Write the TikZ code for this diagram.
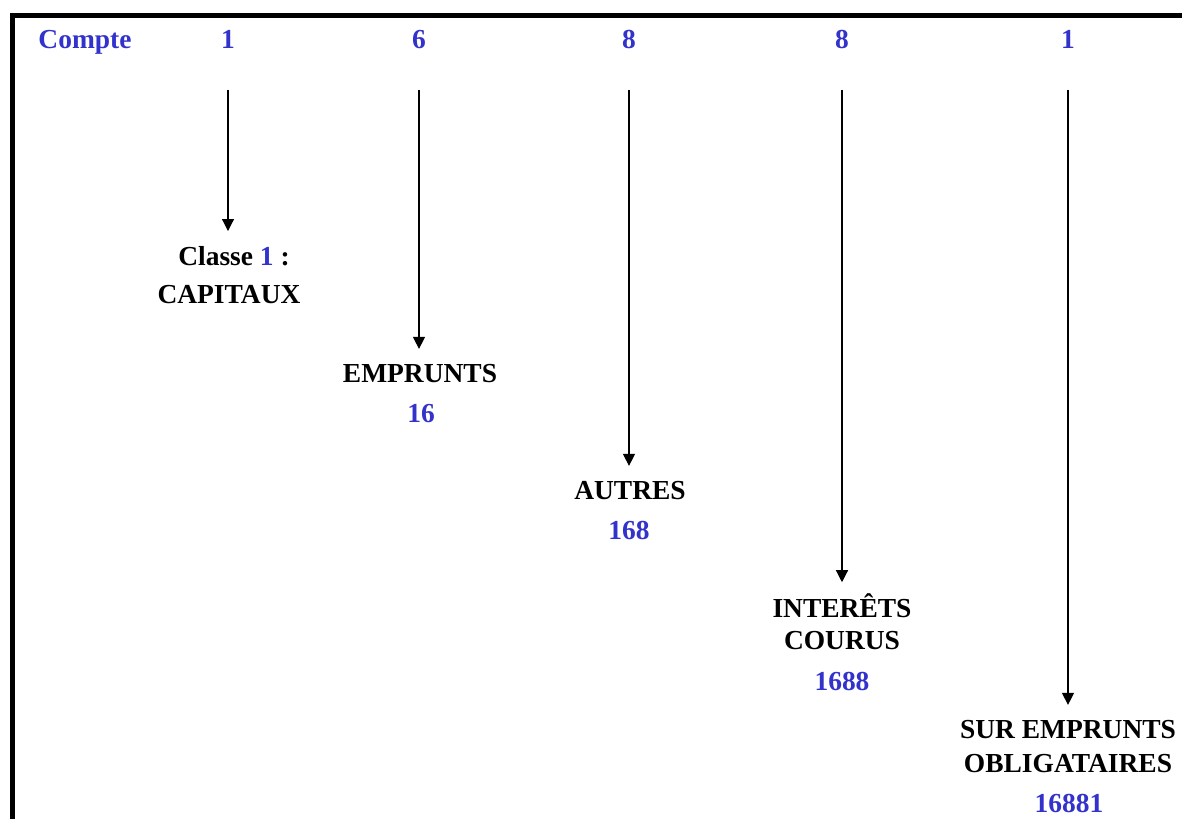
\documentclass[tikz,border=0pt]{standalone}
\usepackage{fontspec}
\setmainfont{Liberation Serif}
\usetikzlibrary{arrows.meta}
\definecolor{numblue}{RGB}{51,51,204}

\begin{document}
\begin{tikzpicture}[x=0.75pt,y=-0.75pt,
        every node/.style={inner sep=0pt,anchor=base,font=\fontsize{20.6}{24}\selectfont\bfseries},
        num/.style={text=numblue},
        pointer/.style={-{Triangle[length=9pt,width=9pt]},line width=0.9pt,shorten <=31pt,shorten >=11pt}]
        \useasboundingbox (0,0) rectangle (1182,818);
        \draw[line width=3.8pt] (12.5,830) |- (1200,15.5);

        \node[num] (compte) at (85,48) {Compte};
        \node[num] (d1) at (228,48) {1};
        \node[num] (d2) at (419,48) {6};
        \node[num] (d3) at (629,48) {8};
        \node[num] (d4) at (842,48) {8};
        \node[num] (d5) at (1068,48) {1};

        \node (classe) at (234,265) {Classe {\color{numblue}1} :};
        \node (capitaux) at (229,303) {CAPITAUX};
        \node (emprunts) at (420,382) {EMPRUNTS};
        \node[num] (n16) at (421,422) {16};
        \node (autres) at (630,499) {AUTRES};
        \node[num] (n168) at (629,539) {168};
        \node (interets) at (842,617) {INTERÊTS};
        \node (courus) at (842,649) {COURUS};
        \node[num] (n1688) at (842,690) {1688};
        \node (sur) at (1068,738) {SUR EMPRUNTS};
        \node (oblig) at (1068,772) {OBLIGATAIRES};
        \node[num] (n16881) at (1069,812) {16881};

        \draw[pointer] (d1.south) -- (d1.south |- classe.north);
        \draw[pointer] (d2.south) -- (d2.south |- emprunts.north);
        \draw[pointer] (d3.south) -- (d3.south |- autres.north);
        \draw[pointer,shorten >=8pt] (d4.south) -- (d4.south |- interets.north);
        \draw[pointer] (d5.south) -- (d5.south |- sur.north);
    \end{tikzpicture}
\end{document}
